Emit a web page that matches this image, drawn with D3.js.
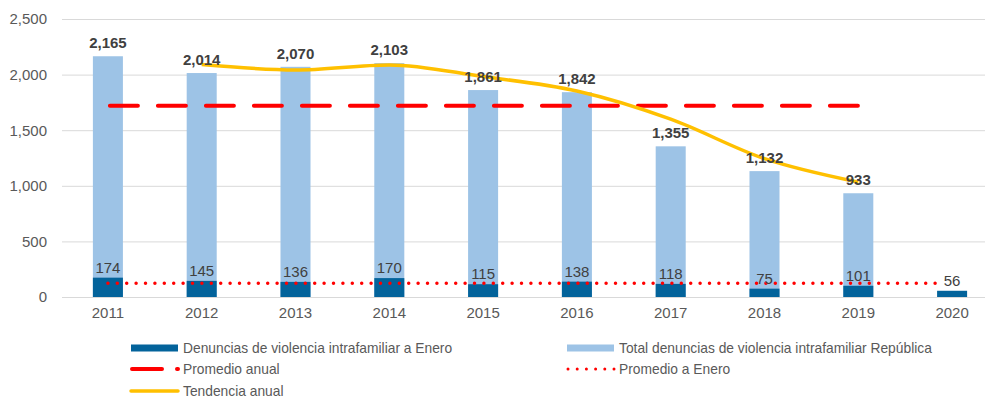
<!DOCTYPE html>
<html>
<head>
<meta charset="utf-8">
<script src="https://cdn.jsdelivr.net/npm/d3@7"></script>
<style>
  body { margin: 0; background: #fff; }
  svg { display: block; font-family: "Liberation Sans", Arial, sans-serif; }
</style>
</head>
<body>
<script>
const years = ["2011", "2012", "2013", "2014", "2015", "2016", "2017", "2018", "2019", "2020"];
const totalRepublica = [2165, 2014, 2070, 2103, 1861, 1842, 1355, 1132, 933, null];
const denunciasEnero = [174, 145, 136, 170, 115, 138, 118, 75, 101, 56];
const tendenciaYears = ["2012", "2013", "2014", "2015", "2016", "2017", "2018", "2019"];
const tendenciaAnual = [2090, 2042, 2087, 1982, 1852, 1599, 1244, 1033];
const promedioAnual = 1719;
const promedioEnero = 123;
const yTicks = [0, 500, 1000, 1500, 2000, 2500];

const width = 987;
const height = 400;
const darkBlue = "#03639b";
const lightBlue = "#9dc3e6";
const red = "#ff0000";
const yellow = "#ffc000";

const svg = d3
  .select("body")
  .append("svg")
  .attr("width", width)
  .attr("height", height);

const xScale = d3.scaleBand().domain(years).range([61, 999]).paddingInner(0.68).paddingOuter(0.34);
const yScale = d3.scaleLinear().domain([0, 2500]).range([297, 19]);
const cx = (y) => xScale(y) + xScale.bandwidth() / 2;

// gridlines + y labels
const yAxis = d3
  .axisLeft(yScale)
  .tickValues(yTicks)
  .tickSize(-(985 - 62))
  .tickPadding(15)
  .tickFormat(d3.format(","));

svg
  .append("g")
  .attr("transform", "translate(62,0)")
  .call(yAxis)
  .call((g) => g.select(".domain").remove())
  .call((g) => g.selectAll("line").attr("stroke", "#d9d9d9").attr("stroke-width", 1))
  .call((g) => g.selectAll("text").attr("fill", "#595959").style("font-size", "15px"));

// x labels
const xAxis = d3.axisBottom(xScale).tickSize(0).tickPadding(10);
svg
  .append("g")
  .attr("transform", "translate(0,297)")
  .call(xAxis)
  .call((g) => g.select(".domain").remove())
  .call((g) => g.selectAll("text").attr("fill", "#595959").style("font-size", "15px"));

// total bars
svg
  .append("g")
  .selectAll("rect")
  .data(years.filter((y, i) => totalRepublica[i] != null))
  .enter()
  .append("rect")
  .attr("x", (d) => xScale(d))
  .attr("y", (d) => yScale(totalRepublica[years.indexOf(d)]))
  .attr("width", xScale.bandwidth())
  .attr("height", (d) => yScale(0) - yScale(totalRepublica[years.indexOf(d)]))
  .attr("fill", lightBlue);

// enero bars
svg
  .append("g")
  .selectAll("rect")
  .data(years)
  .enter()
  .append("rect")
  .attr("x", (d) => xScale(d))
  .attr("y", (d, i) => yScale(denunciasEnero[i]))
  .attr("width", xScale.bandwidth())
  .attr("height", (d, i) => yScale(0) - yScale(denunciasEnero[i]))
  .attr("fill", darkBlue);

// promedio anual (dashed)
svg
  .append("line")
  .attr("x1", cx("2011") + 2)
  .attr("x2", cx("2019"))
  .attr("y1", yScale(promedioAnual))
  .attr("y2", yScale(promedioAnual))
  .attr("stroke", red)
  .attr("stroke-width", 4)
  .attr("stroke-linecap", "round")
  .attr("stroke-dasharray", "28,20");

// promedio enero (dotted)
svg
  .append("line")
  .attr("x1", cx("2011"))
  .attr("x2", cx("2020") - 9)
  .attr("y1", yScale(promedioEnero))
  .attr("y2", yScale(promedioEnero))
  .attr("stroke", red)
  .attr("stroke-width", 3.5)
  .attr("stroke-linecap", "round")
  .attr("stroke-dasharray", "0,9.4");

// tendencia
const line = d3
  .line()
  .x((d, i) => cx(tendenciaYears[i]))
  .y((d) => yScale(d))
  .curve(d3.curveMonotoneX);

svg
  .append("path")
  .datum(tendenciaAnual)
  .attr("d", line)
  .attr("fill", "none")
  .attr("stroke", yellow)
  .attr("stroke-width", 3.5)
  .attr("stroke-linejoin", "round");

// labels
svg
  .append("g")
  .selectAll("text")
  .data(years.filter((y, i) => totalRepublica[i] != null))
  .enter()
  .append("text")
  .attr("x", (d) => cx(d))
  .attr("y", (d) => yScale(totalRepublica[years.indexOf(d)]) - 8)
  .attr("text-anchor", "middle")
  .attr("fill", "#404040")
  .style("font-size", "15px")
  .style("font-weight", "bold")
  .text((d) => d3.format(",")(totalRepublica[years.indexOf(d)]));

svg
  .append("g")
  .selectAll("text")
  .data(years)
  .enter()
  .append("text")
  .attr("x", (d) => cx(d))
  .attr("y", (d, i) => yScale(denunciasEnero[i]) - 5)
  .attr("text-anchor", "middle")
  .attr("fill", "#404040")
  .style("font-size", "15px")
  .text((d, i) => denunciasEnero[i]);

// legend (narrow font look: squeeze the text horizontally)
const legendItems = [
  { label: "Denuncias de violencia intrafamiliar a Enero", kind: "rect", color: darkBlue, x: 131, y: 348 },
  { label: "Total denuncias de violencia intrafamiliar República", kind: "rect", color: lightBlue, x: 567, y: 348 },
  { label: "Promedio anual", kind: "dash", color: red, x: 131, y: 369 },
  { label: "Promedio a Enero", kind: "dot", color: red, x: 567, y: 369 },
  { label: "Tendencia anual", kind: "line", color: yellow, x: 131, y: 391 },
];

const legend = svg.append("g");
legendItems.forEach((it) => {
  const g = legend.append("g").attr("transform", `translate(${it.x},${it.y})`);
  if (it.kind === "rect") {
    g.append("rect").attr("x", 0).attr("y", -3.5).attr("width", 47).attr("height", 7).attr("fill", it.color);
  } else if (it.kind === "dash") {
    g.append("line").attr("x1", 1).attr("x2", 47).attr("stroke", it.color).attr("stroke-width", 4)
      .attr("stroke-linecap", "round").attr("stroke-dasharray", "30,15");
  } else if (it.kind === "dot") {
    g.append("line").attr("x1", 1).attr("x2", 47).attr("stroke", it.color).attr("stroke-width", 3)
      .attr("stroke-linecap", "round").attr("stroke-dasharray", "0,9.2");
  } else {
    g.append("line").attr("x1", 0).attr("x2", 47).attr("stroke", it.color).attr("stroke-width", 3.5)
      .attr("stroke-linecap", "round");
  }
  g.append("text")
    .attr("transform", "translate(52,5.3) scale(0.92,1)")
    .attr("fill", "#595959")
    .style("font-size", "15px")
    .text(it.label);
});
</script>
</body>
</html>
